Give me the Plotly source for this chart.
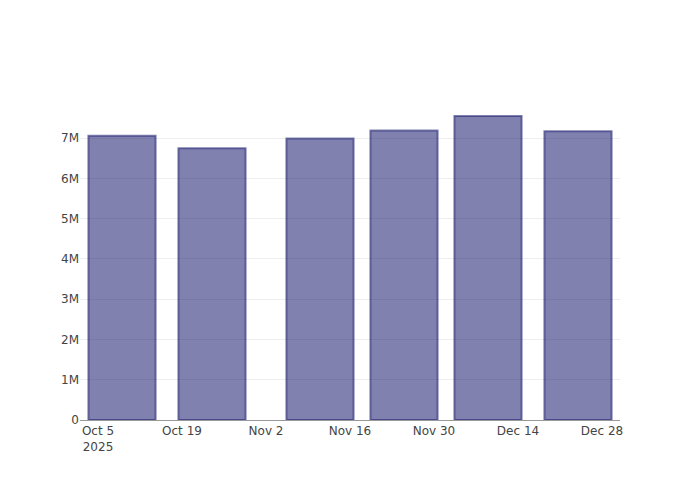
import plotly.graph_objects as go

# biweekly-ish totals
dates = ["2025-10-09", "2025-10-24", "2025-11-11", "2025-11-25", "2025-12-09", "2025-12-24"]
totals = [7.06e6, 6.75e6, 6.99e6, 7.19e6, 7.55e6, 7.17e6]

fig = go.Figure()

fig.add_trace(go.Bar(
    x=dates,
    y=totals,
    marker=dict(
        color="rgba(25,25,112,0.55)",
        line=dict(color="rgba(25,25,112,0.55)", width=2),
    ),
))

# page has an 8px body margin, so shrink the figure to keep the plot box at 80..620 / 100..420
fig.update_layout(
    width=692,
    height=492,
    plot_bgcolor="white",
    paper_bgcolor="white",
    showlegend=False,
    font=dict(family="DejaVu Sans", color="#444", size=12),
    margin=dict(l=72, r=80, t=92, b=80),
)

fig.update_xaxes(
    type="date",
    showgrid=False,
    showline=True,
    linecolor="#999",
    linewidth=1,
    dtick=14 * 24 * 3600 * 1000,
    tick0="2025-10-05",
)

fig.update_yaxes(
    showgrid=True,
    gridcolor="#eee",
    zeroline=False,
    showline=False,
)

fig.write_html("out.html")
